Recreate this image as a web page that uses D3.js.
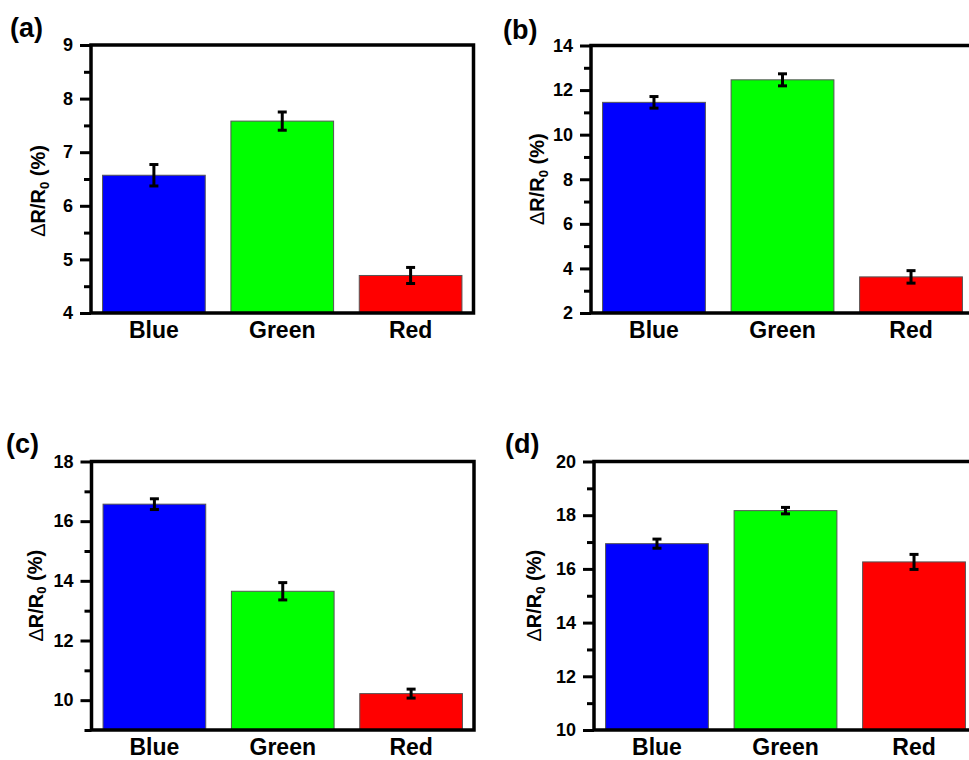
<!DOCTYPE html>
<html>
<head>
<meta charset="utf-8">
<script src="https://cdn.jsdelivr.net/npm/d3@7"></script>
<style>
  html, body { margin: 0; padding: 0; background: #fff; }
  svg { display: block; }
  text { font-family: Arial, "Liberation Sans", sans-serif; }
</style>
</head>
<body>
<svg id="chart" width="969" height="760"></svg>
<script>
// ---- data ----
const categories = ["Blue", "Green", "Red"];
const barColors = ["#0000FF", "#00FF00", "#FF0000"];

const valuesA = [6.57, 7.58, 4.70];
const errorsA = [0.20, 0.17, 0.15];
const valuesB = [11.45, 12.46, 3.62];
const errorsB = [0.26, 0.27, 0.28];
const valuesC = [16.57, 13.65, 10.22];
const errorsC = [0.18, 0.29, 0.15];
const valuesD = [16.94, 18.17, 16.26];
const errorsD = [0.17, 0.12, 0.28];

const majorTicksA = [4, 5, 6, 7, 8, 9];
const minorTicksA = [4.5, 5.5, 6.5, 7.5, 8.5];
const majorTicksB = [2, 4, 6, 8, 10, 12, 14];
const minorTicksB = [3, 5, 7, 9, 11, 13];
const majorTicksC = [10, 12, 14, 16, 18];
const minorTicksC = [9, 11, 13, 15, 17];
const majorTicksD = [10, 12, 14, 16, 18, 20];
const minorTicksD = [11, 13, 15, 17, 19];

const domainA = [4, 9];
const domainB = [2, 14];
const domainC = [9, 18];
const domainD = [10, 20];

const panelLabels = ["(a)", "(b)", "(c)", "(d)"];

// ---- layout (positions only) ----
const layout = [
  { left: 91,  right: 473.5, top: 45,    bottom: 313, labelX: 10,  labelY: 37,  titleOff: 53, titleShift: 12 },
  { left: 591, right: 974,   top: 45.5,  bottom: 313, labelX: 503, labelY: 39,  titleOff: 54, titleShift: 0 },
  { left: 91.5, right: 474,  top: 461.5, bottom: 730, labelX: 6,   labelY: 453, titleOff: 56, titleShift: 0 },
  { left: 594, right: 977,   top: 461.5, bottom: 730, labelX: 505, labelY: 453, titleOff: 60, titleShift: 0 }
];

const panels = [
  { values: valuesA, errors: errorsA, domain: domainA, major: majorTicksA, minor: minorTicksA },
  { values: valuesB, errors: errorsB, domain: domainB, major: majorTicksB, minor: minorTicksB },
  { values: valuesC, errors: errorsC, domain: domainC, major: majorTicksC, minor: minorTicksC },
  { values: valuesD, errors: errorsD, domain: domainD, major: majorTicksD, minor: minorTicksD }
];

const svg = d3.select("#chart");

panels.forEach((p, i) => {
  const L = layout[i];
  const g = svg.append("g");

  const x = d3.scaleBand()
    .domain(categories)
    .range([L.left, L.right])
    .paddingInner(0.2)
    .paddingOuter(0.09);

  const y = d3.scaleLinear()
    .domain(p.domain)
    .range([L.bottom, L.top]);

  const rows = categories.map((c, k) => ({ cat: c, v: p.values[k], e: p.errors[k], color: barColors[k] }));

  // bars
  g.selectAll("rect.bar").data(rows).enter().append("rect")
    .attr("class", "bar")
    .attr("x", d => x(d.cat))
    .attr("width", x.bandwidth())
    .attr("y", d => y(d.v))
    .attr("height", d => y(p.domain[0]) - y(d.v))
    .attr("fill", d => d.color)
    .attr("stroke", "#555")
    .attr("stroke-width", 1);

  // error bars
  const eg = g.selectAll("g.err").data(rows).enter().append("g").attr("class", "err")
    .attr("stroke", "#000").attr("stroke-width", 3);
  eg.append("line")
    .attr("x1", d => x(d.cat) + x.bandwidth() / 2)
    .attr("x2", d => x(d.cat) + x.bandwidth() / 2)
    .attr("y1", d => y(d.v + d.e))
    .attr("y2", d => y(d.v - d.e));
  eg.append("line")
    .attr("x1", d => x(d.cat) + x.bandwidth() / 2 - 4.5)
    .attr("x2", d => x(d.cat) + x.bandwidth() / 2 + 4.5)
    .attr("y1", d => y(d.v + d.e))
    .attr("y2", d => y(d.v + d.e));
  eg.append("line")
    .attr("x1", d => x(d.cat) + x.bandwidth() / 2 - 4.5)
    .attr("x2", d => x(d.cat) + x.bandwidth() / 2 + 4.5)
    .attr("y1", d => y(d.v - d.e))
    .attr("y2", d => y(d.v - d.e));

  // minor ticks
  const minorAxis = g.append("g")
    .attr("transform", `translate(${L.left},0)`)
    .call(d3.axisLeft(y).tickValues(p.minor).tickSize(7).tickFormat(""));
  minorAxis.select(".domain").remove();
  minorAxis.selectAll("line").attr("stroke", "#000").attr("stroke-width", 3);

  // major ticks
  const majorAxis = g.append("g")
    .attr("transform", `translate(${L.left},0)`)
    .call(d3.axisLeft(y).tickValues(p.major).tickSize(11).tickPadding(7).tickFormat(d3.format("d")));
  majorAxis.select(".domain").remove();
  majorAxis.selectAll("line").attr("stroke", "#000").attr("stroke-width", 3);
  majorAxis.selectAll("text")
    .attr("font-size", 18)
    .attr("font-weight", "bold")
    .attr("fill", "#000")
    .attr("font-family", "Arial, 'Liberation Sans', sans-serif");

  // frame
  g.append("rect")
    .attr("x", L.left)
    .attr("y", L.top)
    .attr("width", L.right - L.left)
    .attr("height", L.bottom - L.top)
    .attr("fill", "none")
    .attr("stroke", "#000")
    .attr("stroke-width", 3.5);

  // category labels
  const xAxis = g.append("g")
    .attr("transform", `translate(0,${L.bottom})`)
    .call(d3.axisBottom(x).tickSize(0).tickPadding(0));
  xAxis.select(".domain").remove();
  xAxis.selectAll("text")
    .attr("y", 25)
    .attr("dy", 0)
    .attr("font-size", 23)
    .attr("font-weight", "bold")
    .attr("fill", "#000")
    .attr("font-family", "Arial, 'Liberation Sans', sans-serif");

  // y title
  const cy = (L.top + L.bottom) / 2 + L.titleShift;
  const t = g.append("text")
    .attr("transform", `translate(${L.left - L.titleOff},${cy}) rotate(-90)`)
    .attr("text-anchor", "middle")
    .attr("dy", "0.35em")
    .attr("font-size", 20)
    .attr("font-weight", "bold")
    .attr("fill", "#000");
  t.append("tspan").attr("font-weight", "normal").text("\u0394");
  t.append("tspan").text("R/R");
  t.append("tspan").attr("font-size", 13).attr("dy", "0.3em").text("0");
  t.append("tspan").attr("dy", "-0.2em").text(" (%)");

  // panel label
  g.append("text")
    .attr("x", L.labelX)
    .attr("y", L.labelY)
    .attr("font-size", 27)
    .attr("font-weight", "bold")
    .attr("fill", "#000")
    .text(panelLabels[i]);
});
</script>
</body>
</html>
